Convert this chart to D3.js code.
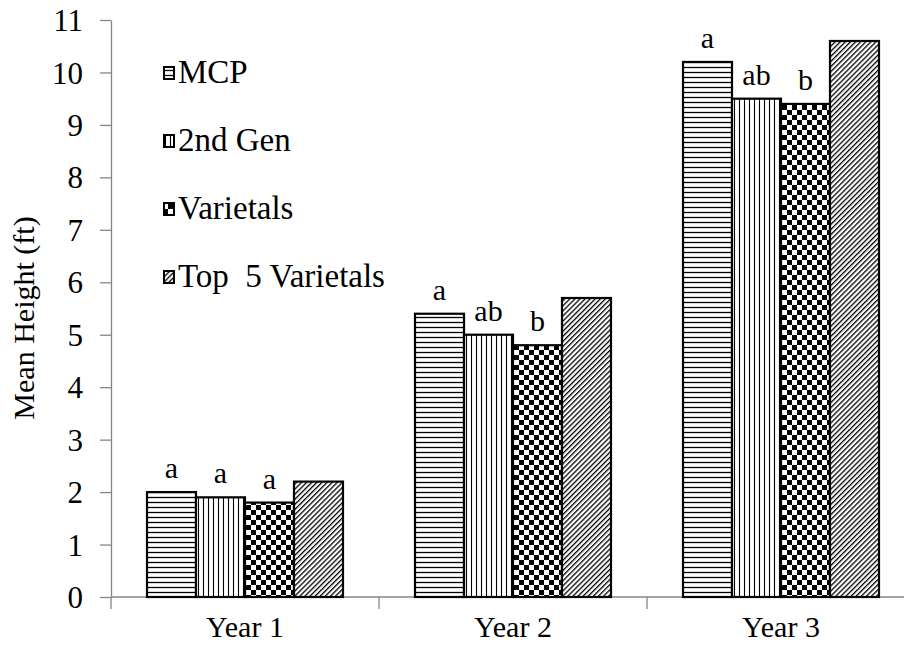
<!DOCTYPE html>
<html>
<head>
<meta charset="utf-8">
<script src="https://cdn.jsdelivr.net/npm/d3@7"></script>
<style>
  body { margin: 0; background: #fff; }
  svg { display: block; }
  svg text { font-family: "Liberation Serif", "Times New Roman", "DejaVu Serif", serif !important; fill: #000; }
</style>
</head>
<body>
<svg id="chart" width="904" height="650"></svg>
<script>
const years = ['Year 1', 'Year 2', 'Year 3']
const series = ['MCP', '2nd Gen', 'Varietals', 'Top  5 Varietals']
const mcp = [2.0, 5.4, 10.2]
const secondGen = [1.9, 5.0, 9.5]
const varietals = [1.8, 4.8, 9.4]
const top5 = [2.2, 5.7, 10.6]
const letters = [['a', 'a', 'a', ''], ['a', 'ab', 'b', ''], ['a', 'ab', 'b', '']]
const yTicks = d3.range(0, 12)

const values = [mcp, secondGen, varietals, top5]
const patternIds = ['hlines', 'vlines', 'checker', 'diag']

const svg = d3.select('#chart')
let margin = {top: 20, left: 111},
    plotW = 804,
    bottom = 597

const defs = svg.append('defs')

// horizontal lines
const ph = defs.append('pattern').attr('id', 'hlines')
  .attr('patternUnits', 'userSpaceOnUse').attr('width', 6).attr('height', 5)
ph.append('rect').attr('width', 6).attr('height', 5).attr('fill', '#fff')
ph.append('line').attr('x1', 0).attr('x2', 6).attr('y1', 2.5).attr('y2', 2.5)
  .attr('stroke', '#000').attr('stroke-width', 1.3)

// vertical lines
const pv = defs.append('pattern').attr('id', 'vlines')
  .attr('patternUnits', 'userSpaceOnUse').attr('width', 5).attr('height', 6)
pv.append('rect').attr('width', 5).attr('height', 6).attr('fill', '#fff')
pv.append('line').attr('x1', 2.5).attr('x2', 2.5).attr('y1', 0).attr('y2', 6)
  .attr('stroke', '#000').attr('stroke-width', 1.1)

// checkerboard
const pc = defs.append('pattern').attr('id', 'checker')
  .attr('patternUnits', 'userSpaceOnUse').attr('width', 10).attr('height', 10)
pc.append('rect').attr('width', 10).attr('height', 10).attr('fill', '#fff')
pc.append('rect').attr('width', 5).attr('height', 5).attr('fill', '#000')
pc.append('rect').attr('x', 5).attr('y', 5).attr('width', 5).attr('height', 5).attr('fill', '#000')

// diagonal
const pd = defs.append('pattern').attr('id', 'diag')
  .attr('patternUnits', 'userSpaceOnUse').attr('width', 3.6).attr('height', 4)
  .attr('patternTransform', 'rotate(45)')
pd.append('rect').attr('width', 3.6).attr('height', 4).attr('fill', '#fff')
pd.append('line').attr('x1', 0).attr('x2', 0).attr('y1', 0).attr('y2', 4)
  .attr('stroke', '#000').attr('stroke-width', 2.6)

const x0 = d3.scaleBand()
  .domain(years)
  .range([margin.left, margin.left + plotW])

const x1 = d3.scaleBand()
  .domain(series)
  .range([0, x0.bandwidth()])
  .paddingInner(0)
  .paddingOuter(0.735)

const yScale = d3.scaleLinear()
  .domain([0, 11])
  .range([bottom, margin.top])

// y axis
const yAxis = svg.append('g')
  .attr('transform', `translate(${margin.left},0)`)
  .call(d3.axisLeft(yScale).tickValues(yTicks).tickSize(11).tickPadding(17).tickSizeOuter(0))
yAxis.attr('font-family', null)
yAxis.select('.domain').attr('stroke', '#868686').attr('stroke-width', 1.3)
yAxis.selectAll('.tick line').attr('stroke', '#868686').attr('stroke-width', 1.3)
yAxis.selectAll('.tick text').attr('font-size', 31).attr('dy', '0.34em')

// x axis line and ticks at category boundaries
svg.append('line')
  .attr('x1', margin.left).attr('x2', 904)
  .attr('y1', bottom).attr('y2', bottom)
  .attr('stroke', '#868686').attr('stroke-width', 1.3)

const bounds = years.map(d => x0(d)).concat([x0(years[2]) + x0.bandwidth()])
svg.selectAll('.xtick').data(bounds).enter().append('line')
  .attr('x1', d => d).attr('x2', d => d)
  .attr('y1', bottom).attr('y2', bottom + 12)
  .attr('stroke', '#868686').attr('stroke-width', 1.3)

svg.selectAll('.xlabel').data(years).enter().append('text')
  .attr('x', d => x0(d) + x0.bandwidth() / 2)
  .attr('y', 637)
  .attr('text-anchor', 'middle')
  .attr('font-size', 30)
  .text(d => d)

// bars
const groups = svg.selectAll('.yr').data(years).enter().append('g')
  .attr('transform', d => `translate(${x0(d)},0)`)

groups.each(function(yr, yi) {
  const g = d3.select(this)
  series.forEach((s, si) => {
    const v = values[si][yi]
    g.append('rect')
      .attr('x', x1(s))
      .attr('y', yScale(v))
      .attr('width', x1.bandwidth())
      .attr('height', bottom - yScale(v))
      .attr('fill', `url(#${patternIds[si]})`)
      .attr('stroke', '#000')
      .attr('stroke-width', 2.2)
    if (letters[yi][si]) {
      g.append('text')
        .attr('x', x1(s) + x1.bandwidth() / 2)
        .attr('y', yScale(v) - 14)
        .attr('text-anchor', 'middle')
        .attr('font-size', 30)
        .text(letters[yi][si])
    }
  })
})

// y label
svg.append('text')
  .attr('transform', 'translate(34,318) rotate(-90)')
  .attr('text-anchor', 'middle')
  .attr('font-size', 30)
  .text('Mean Height (ft)')

// legend
const legend = svg.append('g').attr('transform', 'translate(163,73)')
series.forEach((s, i) => {
  const item = legend.append('g').attr('transform', `translate(0,${i * 68})`)
  item.append('rect')
    .attr('x', 1).attr('y', -6).attr('width', 10).attr('height', 12)
    .attr('fill', `url(#${patternIds[i]})`)
    .attr('stroke', '#000').attr('stroke-width', 2)
  item.append('text')
    .attr('x', 15).attr('y', 10)
    .attr('font-size', 33)
    .style('white-space', 'pre')
    .text(s)
})
</script>
</body>
</html>
